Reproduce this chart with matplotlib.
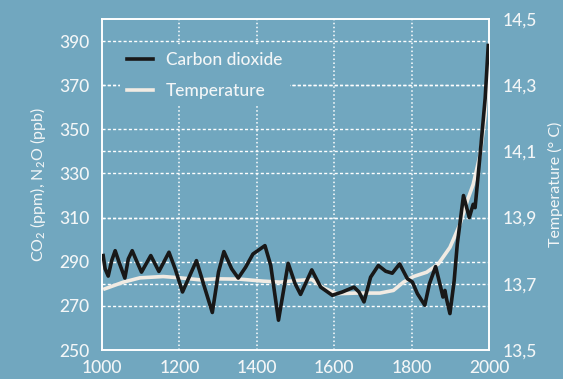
import matplotlib
matplotlib.use("Agg")
import matplotlib.pyplot as plt
from matplotlib.lines import Line2D

# ---- data ----
co2_years = [1003, 1008, 1016, 1025, 1034, 1044, 1059, 1068, 1078, 1089, 1102, 1126,
             1147, 1173, 1189, 1208, 1244, 1266, 1285, 1301, 1315, 1335, 1352, 1371,
             1390, 1421, 1436, 1456, 1481, 1499, 1513, 1542, 1565, 1595, 1621, 1651,
             1664, 1677, 1694, 1714, 1733, 1750, 1769, 1778, 1789, 1802, 1815, 1834,
             1846, 1862, 1875, 1881, 1886, 1890, 1899, 1910, 1918, 1934, 1949, 1959,
             1964, 1977, 1990, 1998]
co2_values = [292.8, 286.8, 283.5, 290.5, 295, 289.8, 282.6, 291.3, 295, 290.5, 285.3, 292.8,
              285.6, 294.3, 286.8, 276.3, 290.5, 277.8, 267, 285.3, 294.6, 286.8, 282.6, 287.5,
              293.5, 297.3, 288.3, 263.5, 289.3, 280, 275.2, 286.3, 278.5, 274.8, 276.3, 278.5,
              276.3, 271.8, 283, 288.3, 285.7, 284.8, 289, 286, 282.3, 280.8, 275.5, 270.3,
              280, 287.8, 278.5, 274, 277, 273.3, 266.5, 281.5, 298, 320, 310, 316,
              314.5, 338.6, 364, 388]

temp_years = [1003, 1055, 1098, 1158, 1202, 1253, 1296, 1357, 1417, 1460, 1503, 1542,
              1572, 1607, 1658, 1718, 1753, 1779, 1805, 1839, 1869, 1899, 1925, 1945,
              1959, 1977, 1990, 1996]
temp_values = [13.683, 13.705, 13.718, 13.722, 13.718, 13.712, 13.715, 13.714, 13.708,
               13.705, 13.71, 13.713, 13.688, 13.670, 13.672, 13.672, 13.68, 13.705,
               13.722, 13.735, 13.76, 13.81, 13.88, 13.955, 14.0, 14.09, 14.21, 14.35]

x_ticks = [1000, 1200, 1400, 1600, 1800, 2000]
left_ticks = [250, 270, 290, 310, 330, 350, 370, 390]
right_ticks = [13.5, 13.7, 13.9, 14.1, 14.3, 14.5]
right_tick_labels = ["13,5", "13,7", "13,9", "14,1", "14,3", "14,5"]

# ---- style ----
BG = "#71a7bf"
TXT = "#f3f6f7"
plt.rcParams["font.family"] = ["Lato", "DejaVu Sans"]
plt.rcParams["font.weight"] = "medium"
plt.rcParams["mathtext.fontset"] = "custom"
plt.rcParams["mathtext.rm"] = "Lato:medium"
plt.rcParams["mathtext.it"] = "Lato:italic"

fig = plt.figure(figsize=(5.63, 3.79), dpi=100, facecolor=BG)
ax = fig.add_axes([0.1812, 0.0765, 0.6874, 0.8734])
ax2 = ax.twinx()
ax.set_zorder(ax2.get_zorder() + 1)
ax.patch.set_visible(False)
ax2.patch.set_facecolor(BG)
ax2.patch.set_visible(True)

hdash = (0, (2.2, 1.6))
vdot = (0, (1.0, 1.6))

ax.set_xlim(1000, 2000)
ax.set_ylim(250, 400)
ax2.set_ylim(13.5, 14.5)

# grid lines (left-axis ticks and right-axis ticks)
for v in left_ticks[1:]:
    ax.axhline(v, color="white", lw=1.0, ls=hdash, zorder=1)
for v in right_ticks[1:-1]:
    ax2.axhline(v, color="white", lw=1.0, ls=hdash, zorder=1)
for xv in x_ticks[1:-1]:
    ax2.axvline(xv, color="white", lw=1.1, ls=vdot, zorder=1)

ax2.plot(temp_years, temp_values, color="#f1ebe3", lw=2.6, solid_capstyle="butt", zorder=3)
ax.plot(co2_years, co2_values, color="#181818", lw=2.6, solid_joinstyle="round", zorder=3)

ax.set_xticks(x_ticks)
ax.set_yticks(left_ticks)
ax2.set_yticks(right_ticks)
ax2.set_yticklabels(right_tick_labels)

for a in (ax, ax2):
    for s in a.spines.values():
        s.set_color("white")
        s.set_linewidth(1.2)
    a.tick_params(length=0, colors=TXT, labelsize=12.5)
ax.tick_params(axis="y", pad=9)
ax.tick_params(axis="x", pad=7)
ax2.tick_params(axis="y", pad=10)

ax.set_ylabel("CO$_2$ (ppm), N$_2$O (ppb)", color=TXT, fontsize=11.5, labelpad=8)
ax2.set_ylabel("Temperature (° C)", color=TXT, fontsize=11.5, labelpad=8)

handles = [Line2D([], [], color="#181818", lw=2.6),
           Line2D([], [], color="#f1ebe3", lw=2.6)]
leg = ax.legend(handles, ["Carbon dioxide", "Temperature"], loc="upper left",
                bbox_to_anchor=(0.047, 0.921), borderaxespad=0, frameon=True,
                facecolor=BG, edgecolor="none", framealpha=1, fontsize=12.5,
                handlelength=1.5, handletextpad=0.75, labelspacing=0.85,
                borderpad=0.4)
for t in leg.get_texts():
    t.set_color(TXT)

fig.savefig("out.png", dpi=100, facecolor=BG)
